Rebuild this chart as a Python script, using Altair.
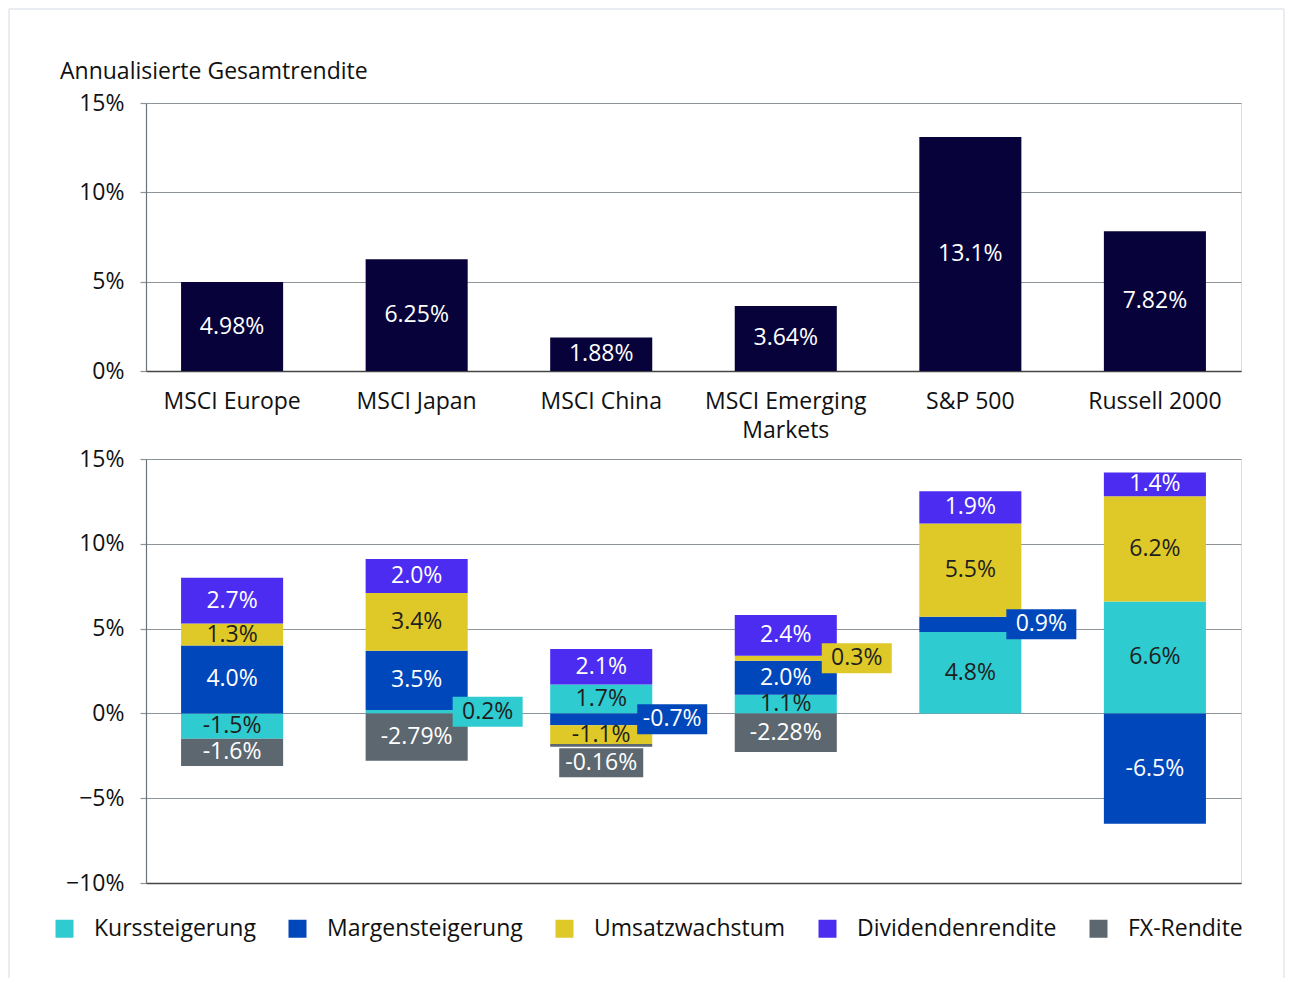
import altair as alt
import pandas as pd

FONT = "Open Sans"
FS = 23

categories = ["MSCI Europe", "MSCI Japan", "MSCI China", "MSCI Emerging Markets", "S&P 500", "Russell 2000"]
total_return = [4.98, 6.25, 1.88, 3.64, 13.1, 7.82]

components = ["Kurssteigerung", "Margensteigerung", "Umsatzwachstum", "Dividendenrendite", "FX-Rendite"]
kurssteigerung = [-1.5, 0.2, 1.7, 1.1, 4.8, 6.6]
margensteigerung = [4.0, 3.5, -0.7, 2.0, 0.9, -6.5]
umsatzwachstum = [1.3, 3.4, -1.1, 0.3, 5.5, 6.2]
dividendenrendite = [2.7, 2.0, 2.1, 2.4, 1.9, 1.4]
fx_rendite = [-1.6, -2.79, -0.16, -2.28, None, None]

chart_title = "Annualisierte Gesamtrendite"

comp_colors = ["#2ecbd0", "#0047bb", "#dfc928", "#4b2cf0", "#5c6770"]
navy = "#07033a"
dark_text = "#1e1e1e"


def pct(v):
    s = f"{v:.1f}" if round(v, 1) == v else f"{v:.2f}"
    return s + "%"


top_df = pd.DataFrame({"cat": categories, "v": total_return,
                       "label": [pct(v) for v in total_return]})

series = [kurssteigerung, margensteigerung, umsatzwachstum, dividendenrendite, fx_rendite]
rows = []
for ci, (comp, vals) in enumerate(zip(components, series)):
    for cat, v in zip(categories, vals):
        if v is None:
            continue
        rows.append({"cat": cat, "comp": comp, "order": ci, "v": v, "label": pct(v)})
bot_df = pd.DataFrame(rows)

grid_col = "#8d959b"
xscale = alt.Scale(domain=categories, paddingInner=0.447, paddingOuter=0.19)

yaxis_common = dict(title=None, grid=True, gridColor=grid_col, gridWidth=1.2,
                    domain=True, domainColor="#6b7379", domainWidth=1.2,
                    ticks=True, tickSize=6, tickColor=grid_col, tickWidth=1.2,
                    labelFont=FONT, labelFontSize=FS, labelColor="#111",
                    labelPadding=16, format="d", labelExpr="datum.label + '%'")

# ---------- top chart ----------
x_top = alt.X("cat:N", sort=categories, scale=xscale,
              axis=alt.Axis(title=None, labelAngle=0, labelFont=FONT, labelFontSize=FS,
                            labelColor="#111", labelPadding=19, labelLineHeight=29,
                            ticks=False, grid=False, domainColor="#444", domainWidth=1.3,
                            labelExpr="datum.label == 'MSCI Emerging Markets' ? ['MSCI Emerging', 'Markets'] : datum.label"))
y_top = alt.Y("v:Q", scale=alt.Scale(domain=[0, 15], nice=False),
              axis=alt.Axis(values=[0, 5, 10, 15], **yaxis_common))

top_bars = alt.Chart(top_df).mark_bar(color=navy).encode(x=x_top, y=y_top)
top_text = alt.Chart(top_df).mark_text(color="white", font=FONT, fontSize=FS).encode(
    x=alt.X("cat:N", sort=categories, scale=xscale),
    y=alt.Y("mid:Q"),
    text="label:N",
).transform_calculate(mid="datum.v / 2")

one = pd.DataFrame({"t": [chart_title]})
frame_col = "#d3dbe3"
frame_left = alt.Chart(one).mark_rule(color=frame_col, strokeWidth=1).encode(
    x=alt.value(-137), y=alt.value(-94), y2=alt.value(875))
frame_right = alt.Chart(one).mark_rule(color=frame_col, strokeWidth=1).encode(
    x=alt.value(1138), y=alt.value(-94), y2=alt.value(875))
frame_top = alt.Chart(one).mark_rule(color=frame_col, strokeWidth=1).encode(
    x=alt.value(-137), x2=alt.value(1138), y=alt.value(-94))
title_text = alt.Chart(one).mark_text(
    align="left", baseline="middle", font=FONT, fontSize=23, color="#111"
).encode(x=alt.value(-86), y=alt.value(-31), text="t:N")

top = alt.layer(frame_left, frame_right, frame_top, title_text, top_bars, top_text).properties(
    width=1095, height=268,
)

# ---------- bottom chart ----------
base = alt.Chart(bot_df).transform_stack(
    stack="v", groupby=["cat"], as_=["y0", "y1"],
    sort=[alt.SortField("order", order="ascending")], offset="zero"
).transform_calculate(
    mid="(datum.y0 + datum.y1) / 2",
    lo="min(datum.y0, datum.y1)",
)

x_bot = alt.X("cat:N", sort=categories, scale=xscale,
              axis=alt.Axis(title=None, labels=False, ticks=False, grid=False,
                            domainColor="#444", domainWidth=1.3))
yscale_bot = alt.Scale(domain=[-10, 15], nice=False)

color_enc = alt.Color("comp:N", scale=alt.Scale(domain=components, range=comp_colors),
                      legend=alt.Legend(title=None, orient="none", legendX=-93, legendY=814,
                                        direction="horizontal", symbolType="square",
                                        symbolSize=324, symbolStrokeWidth=0, symbolOpacity=1,
                                        labelFont=FONT, labelFontSize=FS, labelColor="#111",
                                        labelOffset=18, columnPadding=30, labelLimit=0))

bars = base.mark_bar().encode(
    x=x_bot,
    y=alt.Y("y0:Q", scale=yscale_bot,
            axis=alt.Axis(values=[-10, -5, 0, 5, 10, 15], **yaxis_common)),
    y2="y1:Q",
    color=color_enc,
)

dark_comps = "(datum.comp == 'Kurssteigerung' || datum.comp == 'Umsatzwachstum')"
inside = "abs(datum.v) >= 1"
side = "abs(datum.v) < 1 && datum.comp != 'FX-Rendite'"
below = "abs(datum.v) < 1 && datum.comp == 'FX-Rendite'"

x_plain = alt.X("cat:N", sort=categories, scale=xscale)


def text_layer(cond, col, yfield="mid", dx=0, dy=0):
    return base.transform_filter(cond).mark_text(
        color=col, font=FONT, fontSize=FS, dx=dx, dy=dy
    ).encode(x=x_plain, y=alt.Y(f"{yfield}:Q"), text="label:N")


def box_layer(cond, yfield, w, h, dx=0, dy=0):
    half = h / w
    path = f"M-1,-{half:.3f}H1V{half:.3f}H-1Z"
    return base.transform_filter(cond).mark_point(
        shape=path, size=w * w, filled=True, opacity=1, strokeWidth=0,
        xOffset=dx, yOffset=dy
    ).encode(x=x_plain, y=alt.Y(f"{yfield}:Q"),
             color=alt.Color("comp:N", scale=alt.Scale(domain=components, range=comp_colors), legend=None))


layers = [
    bars,
    text_layer(f"{inside} && {dark_comps}", dark_text),
    text_layer(f"{inside} && !{dark_comps}", "white"),
    box_layer(side, "mid", 70, 30, dx=71),
    text_layer(f"{side} && {dark_comps}", dark_text, dx=71),
    text_layer(f"{side} && !{dark_comps}", "white", dx=71),
    box_layer(below, "lo", 84, 29, dy=16),
    text_layer(below, "white", yfield="lo", dy=16),
]

bottom = alt.layer(*layers).properties(width=1095, height=424)

chart = alt.vconcat(top, bottom, spacing=88, bounds="flush").properties(
    padding=0
).configure_view(strokeWidth=0).configure(font=FONT)

chart.save("out.html", embed_options={"renderer": "svg", "actions": False})
